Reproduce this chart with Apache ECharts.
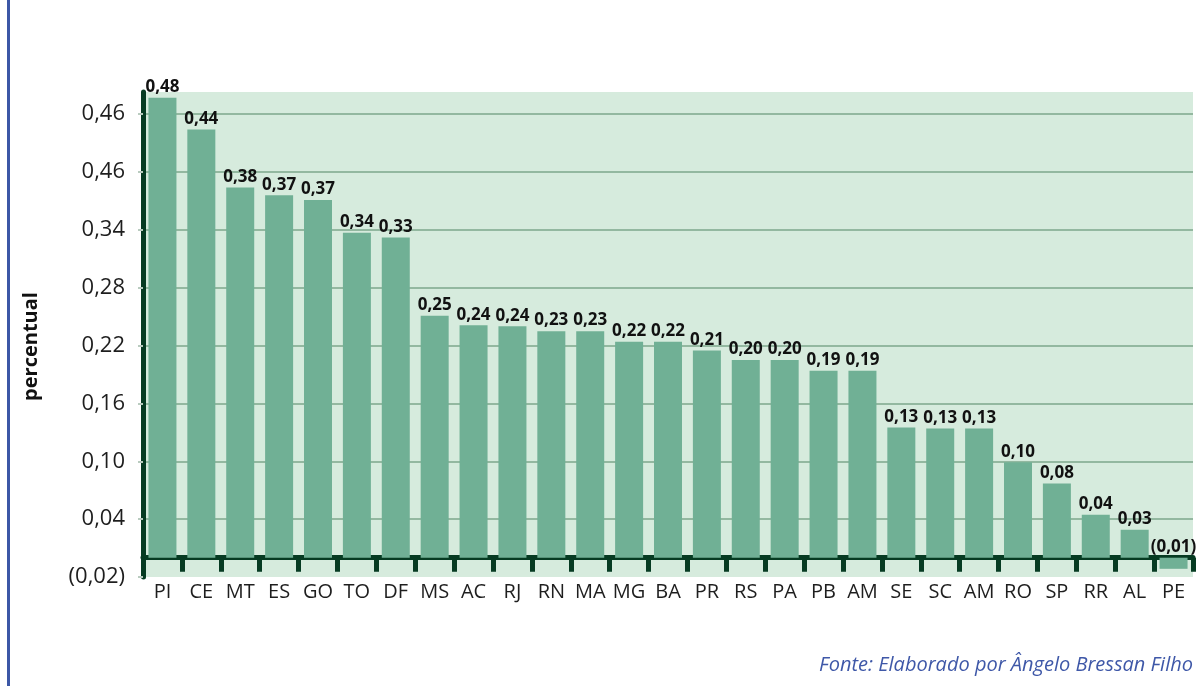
<!DOCTYPE html>
<html>
<head>
<meta charset="utf-8">
<title>percentual por estado</title>
<script src="https://cdn.jsdelivr.net/npm/echarts@6/dist/echarts.min.js"></script>
<style>
    html, body { margin: 0; padding: 0; background: #fff; }
    #chart { width: 1203px; height: 686px; }
</style>
</head>
<body>
<div id="chart"></div>
<script>
// estados (eixo x)
var estados = ["PI", "CE", "MT", "ES", "GO", "TO", "DF", "MS", "AC", "RJ", "RN", "MA", "MG", "BA",
    "PR", "RS", "PA", "PB", "AM", "SE", "SC", "AM", "RO", "SP", "RR", "AL", "PE"];
// altura das barras
var valores = [0.477, 0.444, 0.384, 0.376, 0.371, 0.337, 0.332, 0.251, 0.241, 0.240, 0.235, 0.235, 0.224, 0.224,
    0.215, 0.205, 0.205, 0.194, 0.194, 0.135, 0.134, 0.134, 0.099, 0.077, 0.0445, 0.029, -0.0115];
// rotulos impressos sobre as barras
var rotulos = ["0,48", "0,44", "0,38", "0,37", "0,37", "0,34", "0,33", "0,25", "0,24", "0,24", "0,23", "0,23", "0,22", "0,22",
    "0,21", "0,20", "0,20", "0,19", "0,19", "0,13", "0,13", "0,13", "0,10", "0,08", "0,04", "0,03", "(0,01)"];
// rotulos do eixo y (como aparecem no original)
var yMin = -0.02;
var yStep = 0.06;
var yTicks = ["(0,02)", "0,04", "0,10", "0,16", "0,22", "0,28", "0,34", "0,46", "0,46"];

var fonte = "'Open Sans', 'Noto Sans', sans-serif";
var corEixo = '#063b22';

var chart = echarts.init(document.getElementById('chart'));
chart.setOption({
    animation: false,
    backgroundColor: '#ffffff',
    textStyle: { fontFamily: fonte },
    title: {
        text: 'Fonte: Elaborado por Ângelo Bressan Filho',
        right: 5,
        top: 650,
        textStyle: {
            fontFamily: fonte,
            fontSize: 20,
            fontStyle: 'italic',
            fontWeight: 'normal',
            color: '#3f58a8'
        }
    },
    graphic: [{
        type: 'rect',
        left: 7,
        top: 0,
        shape: { width: 3, height: 686 },
        style: { fill: '#3c57a6' }
    }],
    grid: {
        left: 143,
        top: 92,
        right: 10,
        height: 485,
        show: true,
        borderWidth: 0,
        backgroundColor: '#d6ebdd',
        outerBoundsMode: 'none'
    },
    xAxis: {
        type: 'category',
        data: estados,
        axisLine: {
            onZero: true,
            lineStyle: { color: corEixo, width: 5 }
        },
        axisTick: {
            show: true,
            length: 14,
            lineStyle: { color: corEixo, width: 5 }
        },
        axisLabel: {
            interval: 0,
            margin: 5,
            fontSize: 20,
            color: '#1e1e1e',
            fontFamily: fonte
        },
        splitLine: { show: false }
    },
    yAxis: {
        type: 'value',
        min: yMin,
        max: 0.483,
        interval: yStep,
        name: 'percentual',
        nameLocation: 'middle',
        nameGap: 102,
        nameTextStyle: {
            fontSize: 20,
            fontWeight: 'bold',
            color: '#111',
            fontFamily: fonte,
            padding: [0, 24, 0, 0]
        },
        axisLine: {
            show: true,
            lineStyle: { color: corEixo, width: 5 }
        },
        axisTick: {
            show: true,
            length: 5,
            lineStyle: { color: '#b9cbbf', width: 2 }
        },
        axisLabel: {
            margin: 18,
            fontSize: 22,
            color: '#1e1e1e',
            fontFamily: fonte,
            showMaxLabel: false,
            formatter: (v) => {
                var k = (v - yMin) / yStep;
                var i = Math.round(k);
                if (Math.abs(k - i) > 0.01 || i < 0 || i >= yTicks.length) return '';
                return yTicks[i];
            }
        },
        splitLine: {
            show: true,
            showMinLine: false,
            showMaxLine: false,
            lineStyle: { color: '#93b8a0', width: 2 }
        }
    },
    series: [{
        type: 'bar',
        data: valores,
        barWidth: 28,
        itemStyle: { color: '#70b095' },
        label: {
            show: true,
            position: 'top',
            distance: 2,
            fontSize: 17,
            fontWeight: 'bold',
            color: '#111',
            fontFamily: fonte,
            formatter: (p) => rotulos[p.dataIndex]
        }
    }]
});
</script>
</body>
</html>
